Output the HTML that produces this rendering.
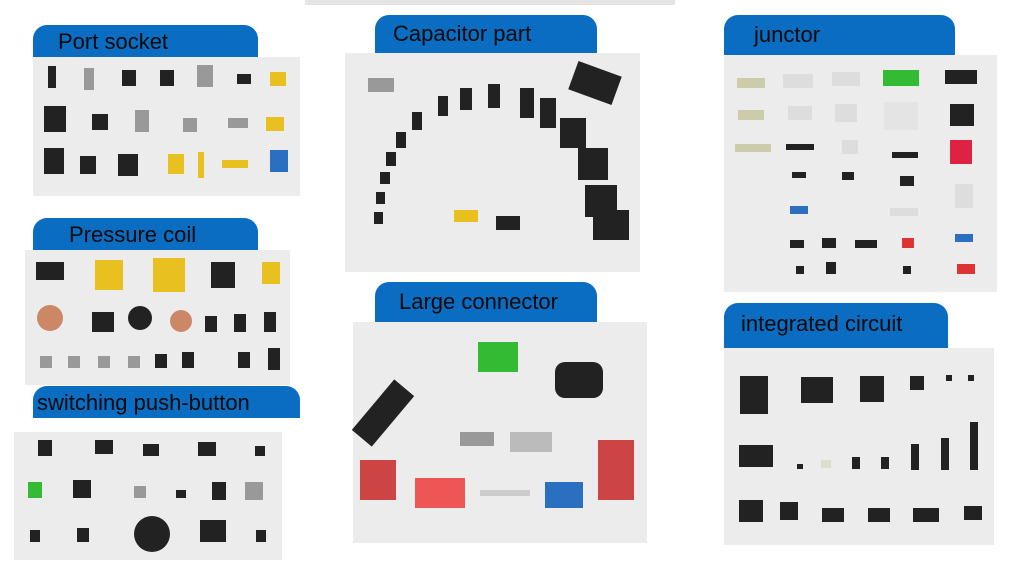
<!DOCTYPE html>
<html><head><meta charset="utf-8"><style>
body{margin:0;width:1024px;height:567px;background:#fff;position:relative;overflow:hidden;font-family:"Liberation Sans",sans-serif}
.tab{position:absolute;background:#0b6dc1;border-radius:14px 14px 0 0;color:#0a0a0a;font-size:22px;line-height:1;box-sizing:border-box;padding-top:6px}
.p{position:absolute;background:#ececec}
.c{position:absolute;background:#222}
.g{position:absolute;background:#999}
.y{position:absolute;background:#e8c020}
.r{position:absolute;background:#d33}
.gr{position:absolute;background:#3b3}
.b{position:absolute;background:#2a6fc0}
</style></head><body>
<div class="p" style="left:305px;top:0;width:370px;height:5px;background:#e4e4e4"></div>

<div class="tab" style="left:33px;top:25px;width:225px;height:32px;padding-left:25px">Port socket</div>
<div class="p" style="left:33px;top:57px;width:267px;height:139px"></div>
<div class="c" style="left:48px;top:66px;width:8px;height:22px"></div>
<div class="g" style="left:84px;top:68px;width:10px;height:22px"></div>
<div class="c" style="left:122px;top:70px;width:14px;height:16px"></div>
<div class="c" style="left:160px;top:70px;width:14px;height:16px"></div>
<div class="g" style="left:197px;top:65px;width:16px;height:22px"></div>
<div class="c" style="left:237px;top:74px;width:14px;height:10px"></div>
<div class="y" style="left:270px;top:72px;width:16px;height:14px"></div>
<div class="c" style="left:44px;top:106px;width:22px;height:26px"></div>
<div class="c" style="left:92px;top:114px;width:16px;height:16px"></div>
<div class="g" style="left:135px;top:110px;width:14px;height:22px"></div>
<div class="g" style="left:183px;top:118px;width:14px;height:14px"></div>
<div class="g" style="left:228px;top:118px;width:20px;height:10px"></div>
<div class="y" style="left:266px;top:117px;width:18px;height:14px"></div>
<div class="c" style="left:44px;top:148px;width:20px;height:26px"></div>
<div class="c" style="left:80px;top:156px;width:16px;height:18px"></div>
<div class="c" style="left:118px;top:154px;width:20px;height:22px"></div>
<div class="y" style="left:168px;top:154px;width:16px;height:20px"></div>
<div class="y" style="left:198px;top:152px;width:6px;height:26px"></div>
<div class="y" style="left:222px;top:160px;width:26px;height:8px"></div>
<div class="b" style="left:270px;top:150px;width:18px;height:22px"></div>

<div class="tab" style="left:33px;top:218px;width:225px;height:32px;padding-left:36px">Pressure coil</div>
<div class="p" style="left:25px;top:250px;width:265px;height:135px"></div>
<div class="c" style="left:36px;top:262px;width:28px;height:18px"></div>
<div class="y" style="left:95px;top:260px;width:28px;height:30px"></div>
<div class="y" style="left:153px;top:258px;width:32px;height:34px"></div>
<div class="c" style="left:211px;top:262px;width:24px;height:26px"></div>
<div class="y" style="left:262px;top:262px;width:18px;height:22px"></div>
<div class="r" style="left:37px;top:305px;width:26px;height:26px;border-radius:50%;background:#c86"></div>
<div class="c" style="left:92px;top:312px;width:22px;height:20px"></div>
<div class="c" style="left:128px;top:306px;width:24px;height:24px;border-radius:50%"></div>
<div class="r" style="left:170px;top:310px;width:22px;height:22px;border-radius:50%;background:#c86"></div>
<div class="c" style="left:205px;top:316px;width:12px;height:16px"></div>
<div class="c" style="left:234px;top:314px;width:12px;height:18px"></div>
<div class="c" style="left:264px;top:312px;width:12px;height:20px"></div>
<div class="g" style="left:40px;top:356px;width:12px;height:12px"></div>
<div class="g" style="left:68px;top:356px;width:12px;height:12px"></div>
<div class="g" style="left:98px;top:356px;width:12px;height:12px"></div>
<div class="g" style="left:128px;top:356px;width:12px;height:12px"></div>
<div class="c" style="left:155px;top:354px;width:12px;height:14px"></div>
<div class="c" style="left:182px;top:352px;width:12px;height:16px"></div>
<div class="c" style="left:238px;top:352px;width:12px;height:16px"></div>
<div class="c" style="left:268px;top:348px;width:12px;height:22px"></div>

<div class="tab" style="left:33px;top:386px;width:267px;height:32px;padding-left:4px">switching push-button</div>
<div class="p" style="left:14px;top:432px;width:268px;height:128px"></div>
<div class="c" style="left:38px;top:440px;width:14px;height:16px"></div>
<div class="c" style="left:95px;top:440px;width:18px;height:14px"></div>
<div class="c" style="left:143px;top:444px;width:16px;height:12px"></div>
<div class="c" style="left:198px;top:442px;width:18px;height:14px"></div>
<div class="c" style="left:255px;top:446px;width:10px;height:10px"></div>
<div class="gr" style="left:28px;top:482px;width:14px;height:16px"></div>
<div class="c" style="left:73px;top:480px;width:18px;height:18px"></div>
<div class="g" style="left:134px;top:486px;width:12px;height:12px"></div>
<div class="c" style="left:176px;top:490px;width:10px;height:8px"></div>
<div class="c" style="left:212px;top:482px;width:14px;height:18px"></div>
<div class="g" style="left:245px;top:482px;width:18px;height:18px"></div>
<div class="c" style="left:30px;top:530px;width:10px;height:12px"></div>
<div class="c" style="left:77px;top:528px;width:12px;height:14px"></div>
<div class="c" style="left:134px;top:516px;width:36px;height:36px;border-radius:50%"></div>
<div class="c" style="left:200px;top:520px;width:26px;height:22px"></div>
<div class="c" style="left:256px;top:530px;width:10px;height:12px"></div>

<div class="tab" style="left:375px;top:15px;width:222px;height:38px;padding:8px 0 0 18px">Capacitor part</div>
<div class="p" style="left:345px;top:53px;width:295px;height:219px"></div>
<div class="g" style="left:368px;top:78px;width:26px;height:14px"></div>
<div class="c" style="left:572px;top:68px;width:46px;height:30px;transform:rotate(20deg)"></div>
<div class="c" style="left:560px;top:118px;width:26px;height:30px"></div>
<div class="c" style="left:578px;top:148px;width:30px;height:32px"></div>
<div class="c" style="left:585px;top:185px;width:32px;height:32px"></div>
<div class="c" style="left:593px;top:210px;width:36px;height:30px"></div>
<div class="c" style="left:520px;top:88px;width:14px;height:30px"></div>
<div class="c" style="left:540px;top:98px;width:16px;height:30px"></div>
<div class="c" style="left:488px;top:84px;width:12px;height:24px"></div>
<div class="c" style="left:460px;top:88px;width:12px;height:22px"></div>
<div class="c" style="left:438px;top:96px;width:10px;height:20px"></div>
<div class="c" style="left:412px;top:112px;width:10px;height:18px"></div>
<div class="c" style="left:396px;top:132px;width:10px;height:16px"></div>
<div class="c" style="left:386px;top:152px;width:10px;height:14px"></div>
<div class="c" style="left:380px;top:172px;width:10px;height:12px"></div>
<div class="c" style="left:376px;top:192px;width:9px;height:12px"></div>
<div class="c" style="left:374px;top:212px;width:9px;height:12px"></div>
<div class="c" style="left:496px;top:216px;width:24px;height:14px"></div>
<div class="y" style="left:454px;top:210px;width:24px;height:12px"></div>

<div class="tab" style="left:375px;top:282px;width:222px;height:40px;padding:9px 0 0 24px">Large connector</div>
<div class="p" style="left:353px;top:322px;width:294px;height:221px"></div>
<div class="c" style="left:370px;top:380px;width:26px;height:66px;transform:rotate(40deg)"></div>
<div class="gr" style="left:478px;top:342px;width:40px;height:30px"></div>
<div class="c" style="left:555px;top:362px;width:48px;height:36px;border-radius:10px"></div>
<div class="g" style="left:460px;top:432px;width:34px;height:14px"></div>
<div class="g" style="left:510px;top:432px;width:42px;height:20px;background:#bbb"></div>
<div class="r" style="left:360px;top:460px;width:36px;height:40px;background:#c44"></div>
<div class="r" style="left:415px;top:478px;width:50px;height:30px;background:#e55"></div>
<div class="g" style="left:480px;top:490px;width:50px;height:6px;background:#ccc"></div>
<div class="b" style="left:545px;top:482px;width:38px;height:26px"></div>
<div class="r" style="left:598px;top:440px;width:36px;height:60px;background:#c44"></div>

<div class="tab" style="left:724px;top:15px;width:231px;height:40px;padding:9px 0 0 30px">junctor</div>
<div class="p" style="left:724px;top:55px;width:273px;height:237px"></div>
<div class="g" style="left:737px;top:78px;width:28px;height:10px;background:#cca"></div>
<div class="g" style="left:783px;top:74px;width:30px;height:14px;background:#ddd"></div>
<div class="g" style="left:832px;top:72px;width:28px;height:14px;background:#ddd"></div>
<div class="gr" style="left:883px;top:70px;width:36px;height:16px"></div>
<div class="c" style="left:945px;top:70px;width:32px;height:14px"></div>
<div class="g" style="left:738px;top:110px;width:26px;height:10px;background:#cca"></div>
<div class="g" style="left:788px;top:106px;width:24px;height:14px;background:#ddd"></div>
<div class="g" style="left:835px;top:104px;width:22px;height:18px;background:#ddd"></div>
<div class="g" style="left:884px;top:102px;width:34px;height:28px;background:#e4e4e4"></div>
<div class="c" style="left:950px;top:104px;width:24px;height:22px"></div>
<div class="g" style="left:735px;top:144px;width:36px;height:8px;background:#cca"></div>
<div class="c" style="left:786px;top:144px;width:28px;height:6px"></div>
<div class="g" style="left:842px;top:140px;width:16px;height:14px;background:#ddd"></div>
<div class="c" style="left:892px;top:152px;width:26px;height:6px"></div>
<div class="r" style="left:950px;top:140px;width:22px;height:24px;background:#d24"></div>
<div class="c" style="left:792px;top:172px;width:14px;height:6px"></div>
<div class="c" style="left:842px;top:172px;width:12px;height:8px"></div>
<div class="c" style="left:900px;top:176px;width:14px;height:10px"></div>
<div class="g" style="left:955px;top:184px;width:18px;height:24px;background:#ddd"></div>
<div class="b" style="left:790px;top:206px;width:18px;height:8px"></div>
<div class="g" style="left:890px;top:208px;width:28px;height:8px;background:#ddd"></div>
<div class="c" style="left:790px;top:240px;width:14px;height:8px"></div>
<div class="c" style="left:822px;top:238px;width:14px;height:10px"></div>
<div class="c" style="left:855px;top:240px;width:22px;height:8px"></div>
<div class="r" style="left:902px;top:238px;width:12px;height:10px"></div>
<div class="b" style="left:955px;top:234px;width:18px;height:8px"></div>
<div class="c" style="left:796px;top:266px;width:8px;height:8px"></div>
<div class="c" style="left:826px;top:262px;width:10px;height:12px"></div>
<div class="c" style="left:903px;top:266px;width:8px;height:8px"></div>
<div class="r" style="left:957px;top:264px;width:18px;height:10px"></div>

<div class="tab" style="left:724px;top:303px;width:224px;height:45px;padding:10px 0 0 17px">integrated circuit</div>
<div class="p" style="left:724px;top:348px;width:270px;height:197px"></div>
<div class="c" style="left:740px;top:376px;width:28px;height:38px"></div>
<div class="c" style="left:801px;top:377px;width:32px;height:26px"></div>
<div class="c" style="left:860px;top:376px;width:24px;height:26px"></div>
<div class="c" style="left:910px;top:376px;width:14px;height:14px"></div>
<div class="c" style="left:946px;top:375px;width:6px;height:6px"></div>
<div class="c" style="left:968px;top:375px;width:6px;height:6px"></div>
<div class="c" style="left:739px;top:445px;width:34px;height:22px"></div>
<div class="c" style="left:797px;top:464px;width:6px;height:5px"></div>
<div class="g" style="left:821px;top:460px;width:10px;height:8px;background:#ddc"></div>
<div class="c" style="left:852px;top:457px;width:8px;height:12px"></div>
<div class="c" style="left:881px;top:457px;width:8px;height:12px"></div>
<div class="c" style="left:911px;top:444px;width:8px;height:26px"></div>
<div class="c" style="left:941px;top:438px;width:8px;height:32px"></div>
<div class="c" style="left:970px;top:422px;width:8px;height:48px"></div>
<div class="c" style="left:739px;top:500px;width:24px;height:22px"></div>
<div class="c" style="left:780px;top:502px;width:18px;height:18px"></div>
<div class="c" style="left:822px;top:508px;width:22px;height:14px"></div>
<div class="c" style="left:868px;top:508px;width:22px;height:14px"></div>
<div class="c" style="left:913px;top:508px;width:26px;height:14px"></div>
<div class="c" style="left:964px;top:506px;width:18px;height:14px"></div>
</body></html>
